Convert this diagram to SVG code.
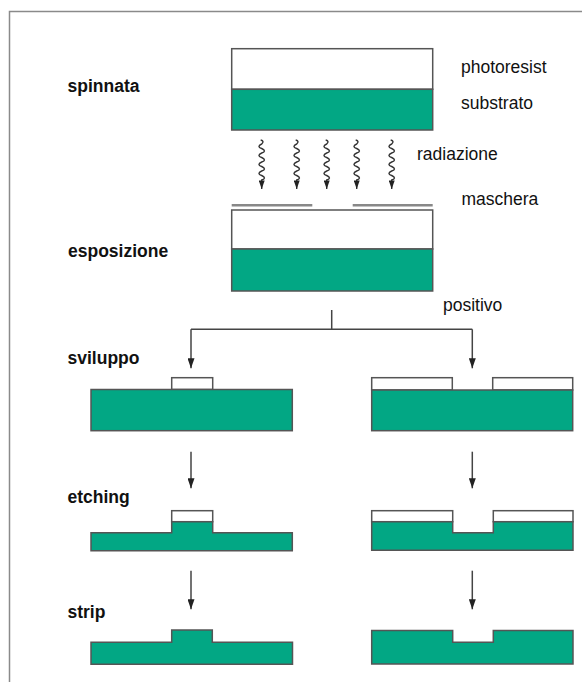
<svg xmlns="http://www.w3.org/2000/svg" width="582" height="682" viewBox="0 0 582 682">
<defs>
<style>
.step{font-family:"Liberation Sans",Arial,sans-serif;font-weight:bold;font-size:17.5px;fill:#111}
.lbl{font-family:"Liberation Sans",Arial,sans-serif;font-size:17.5px;fill:#111}
.sub{fill:#02a784;stroke:#555;stroke-width:1.5}
.res{fill:#fff;stroke:#555;stroke-width:1.5}
.conn{fill:none;stroke:#444;stroke-width:1.5}
.wave{fill:none;stroke:#333;stroke-width:1.4}
.mask{stroke:#888;stroke-width:2.5}
</style>
<marker id="ah" viewBox="0 0 10 7" refX="10" refY="3.5" markerWidth="10" markerHeight="7" markerUnits="userSpaceOnUse" orient="auto">
<path d="M0,0 L10,3.5 L0,7 Z" fill="#222"/>
</marker>
<marker id="ahs" viewBox="0 0 10 7" refX="10" refY="3.5" markerWidth="9" markerHeight="6" markerUnits="userSpaceOnUse" orient="auto">
<path d="M0,0 L10,3.5 L0,7 Z" fill="#222"/>
</marker>
<path id="wv" d="M-1,0 q4,1 1,4 q-5.5,2.5 0,4.5 q5.5,2.5 0,4.5 q-5.5,2.5 0,4.5 q5.5,2.5 0,4.5 q-5.5,2.5 0,4.5 q5.5,2.5 0,4.5 q-5.5,2.5 0,4.5 q5.5,2.5 0,4.5 v9" class="wave" marker-end="url(#ahs)"/>
</defs>
<rect x="0" y="0" width="582" height="682" fill="#fff"/>
<rect x="9.5" y="11.5" width="620" height="720" fill="none" stroke="#8a8a8a" stroke-width="1.5"/>

<g id="labels">
<text class="step" x="67.5" y="91.5">spinnata</text>
<text class="step" x="68" y="257">esposizione</text>
<text class="step" x="67.5" y="364">sviluppo</text>
<text class="step" x="67.5" y="503">etching</text>
<text class="step" x="67.5" y="618">strip</text>
<text class="lbl" x="461" y="72.5">photoresist</text>
<text class="lbl" x="461" y="108.5">substrato</text>
<text class="lbl" x="417" y="160">radiazione</text>
<text class="lbl" x="461.5" y="205">maschera</text>
<text class="lbl" x="443" y="311">positivo</text>
</g>

<g id="spinnata">
<rect class="res" x="231.7" y="48.7" width="201" height="40.6"/>
<rect class="sub" x="231.7" y="89.3" width="201" height="40.7"/>
</g>

<g id="radiazione">
<use href="#wv" x="261.7" y="140"/>
<use href="#wv" x="296.7" y="140"/>
<use href="#wv" x="326.7" y="140"/>
<use href="#wv" x="356.7" y="140"/>
<use href="#wv" x="391.7" y="140"/>
</g>

<g id="maschera">
<line class="mask" x1="231.7" y1="205.3" x2="312.3" y2="205.3"/>
<line class="mask" x1="352.7" y1="205.3" x2="432.7" y2="205.3"/>
</g>

<g id="esposizione">
<rect class="res" x="231.7" y="210" width="201" height="39"/>
<rect class="sub" x="231.7" y="249" width="201" height="42"/>
</g>

<g id="connectors">
<path class="conn" d="M331.7,310 V329.3 M191,329.3 H472.3"/>
<line class="conn" x1="191" y1="329.3" x2="191" y2="368.3" marker-end="url(#ah)"/>
<line class="conn" x1="472.3" y1="329.3" x2="472.3" y2="368.3" marker-end="url(#ah)"/>
<line class="conn" x1="191" y1="451.7" x2="191" y2="488.3" marker-end="url(#ah)"/>
<line class="conn" x1="472.3" y1="451.7" x2="472.3" y2="488.3" marker-end="url(#ah)"/>
<line class="conn" x1="191" y1="570.7" x2="191" y2="609.3" marker-end="url(#ah)"/>
<line class="conn" x1="472.3" y1="570.7" x2="472.3" y2="609.3" marker-end="url(#ah)"/>
</g>

<g id="sviluppo-sx">
<rect class="res" x="171.7" y="377.7" width="41" height="11.8"/>
<rect class="sub" x="91" y="389.5" width="201.3" height="41.2"/>
</g>
<g id="sviluppo-dx">
<rect class="res" x="371.7" y="377.7" width="80.6" height="12.3"/>
<rect class="res" x="492.7" y="377.7" width="80" height="12.3"/>
<rect class="sub" x="371.7" y="390" width="201" height="40.7"/>
</g>

<g id="etching-sx">
<rect class="res" x="171.7" y="510.7" width="41" height="11"/>
<path class="sub" d="M91,532.7 H171.7 V521.7 H212.7 V532.7 H292.3 V550.7 H91 Z"/>
</g>
<g id="etching-dx">
<rect class="res" x="371.7" y="510.7" width="81" height="11"/>
<rect class="res" x="493.3" y="510.7" width="79.7" height="11"/>
<path class="sub" d="M371.7,521.7 H452.7 V532.7 H493.3 V521.7 H573 V550.3 H371.7 Z"/>
</g>

<g id="strip-sx">
<path class="sub" d="M91,642.2 H171.7 V630 H212.3 V642.2 H292.5 V664.3 H91 Z"/>
</g>
<g id="strip-dx">
<path class="sub" d="M371.7,630.5 H452.7 V642.3 H493.3 V630.5 H573 V664 H371.7 Z"/>
</g>
</svg>
